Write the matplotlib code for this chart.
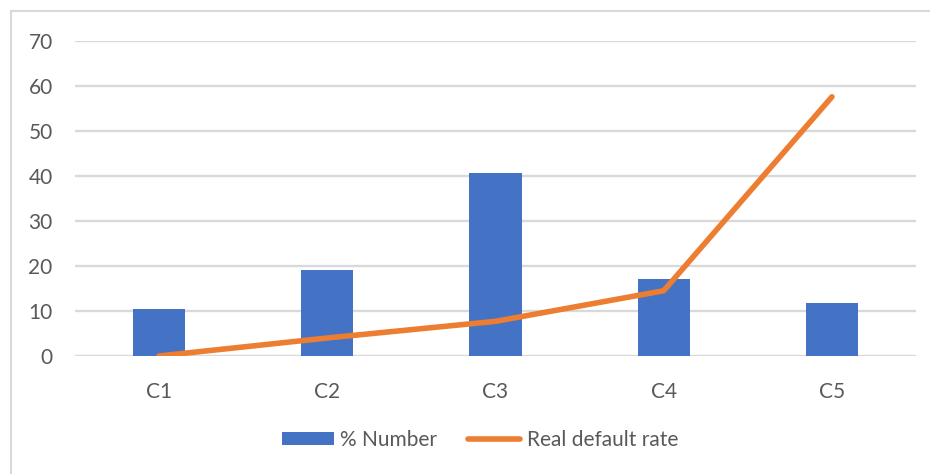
import matplotlib.pyplot as plt
from matplotlib.patches import Rectangle

categories = ['C1', 'C2', 'C3', 'C4', 'C5']
pct_number = [10.4, 19.2, 40.6, 17.2, 11.8]
default_rate = [0.0, 4.0, 7.7, 14.5, 57.6]

plt.rcParams['font.family'] = ['Lato', 'DejaVu Sans']

fig = plt.figure(figsize=(9.3, 4.74), dpi=100)
ax = fig.add_axes([0.0806, 0.249, 0.9044, 0.6645])

# light frame round the chart area
fig.patches.append(Rectangle((0.012, -0.05), 1.2, 1.027, transform=fig.transFigure,
                             fill=False, edgecolor='#D9D9D9', linewidth=1.5))

x = range(len(categories))
bars = ax.bar(x, pct_number, width=0.31, color='#4472C4', label='% Number', zorder=2)
line, = ax.plot(x, default_rate, color='#ED7D31', linewidth=4, solid_capstyle='round',
                label='Real default rate', zorder=3)

ax.set_xlim(-0.5, 4.5)
ax.set_ylim(0, 70)
ax.set_yticks(range(0, 71, 10))
ax.set_xticks(list(x))
ax.set_xticklabels(categories)
ax.grid(axis='y', color='#D9D9D9', linewidth=1.7, zorder=0)
ax.set_axisbelow(True)
for s in ax.spines.values():
    s.set_visible(False)
ax.tick_params(axis='both', length=0, labelsize=15, labelcolor='#595959')
ax.tick_params(axis='y', pad=16)
ax.tick_params(axis='x', pad=19)

fig.legend(handles=[bars, line], loc='center', bbox_to_anchor=(0.516, 0.072), ncol=2,
           frameon=False, fontsize=15, labelcolor='#595959', handlelength=2.5,
           handleheight=0.6, handletextpad=0.3, columnspacing=1.5)

fig.savefig('out.png', dpi=100)
